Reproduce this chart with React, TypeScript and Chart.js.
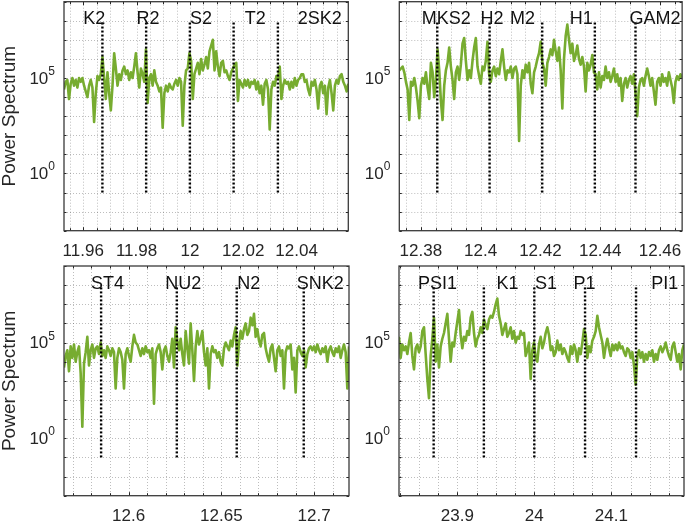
import React, { useEffect, useRef } from "react";
import { Chart, registerables } from "chart.js";
Chart.register(...registerables);

const FONT = "'Liberation Sans', Arial, Helvetica, sans-serif";
const AXIS_COLOR = "#262626";
const GREEN = "#77AC30";

// Power axis limits (log scale) and labelled decades
const yLimits = [1e-3, 1e9];
const yLabelDecades = [0, 5];
const markerSpan = [1e-1, 1e8];
const labelLevel = 1.2e8;

// ---------- Panel 1 : period (hours) ----------
const p1XRange = [11.9528, 12.0594];
const p1LogPower = [
  4.4, 4.8, 4.9, 3.9, 4.7, 5.0, 4.6, 4.9, 4.5, 5.0,
  4.8, 5.0, 4.6, 4.3, 4.0, 4.6, 4.9, 4.5, 2.7, 4.2,
  5.1, 4.9, 5.2, 6.1, 5.0, 3.9, 5.3, 4.2, 3.3, 4.6,
  6.3, 5.5, 4.6, 5.2, 4.9, 5.4, 5.6, 5.2, 5.4, 4.9,
  5.3, 5.0, 5.6, 6.3, 5.3, 4.5, 5.5, 5.2, 4.8, 6.5,
  3.7, 5.0, 5.2, 4.6, 5.4, 4.8, 4.6, 4.3, 4.5, 2.4,
  4.2, 4.6, 4.3, 4.7, 4.5, 4.4, 4.7, 4.9, 4.6, 5.0,
  4.8, 2.5, 4.6, 5.4, 5.5, 6.3, 5.9, 3.9, 5.2, 5.5,
  5.8, 5.2, 6.0, 5.4, 5.7, 6.1, 5.5, 6.4, 6.7, 7.0,
  5.4, 6.4, 5.6, 5.1, 5.8, 5.9, 5.3, 5.4, 5.1, 4.9,
  5.3, 5.5, 5.7, 5.8, 3.8, 4.9, 4.7, 4.5, 4.9, 4.6,
  4.9, 4.5, 4.8, 4.7, 4.9, 4.4, 4.8, 4.2, 4.6, 3.6,
  4.7, 4.9, 4.4, 2.3, 4.4, 4.8, 4.6, 5.1, 5.0, 5.6,
  3.9, 4.6, 4.9, 4.7, 4.8, 4.4, 4.8, 4.5, 5.0, 4.6,
  4.9, 5.0, 5.2, 5.2, 4.8, 4.9, 4.4, 4.1, 4.8, 4.6,
  4.9, 4.4, 3.4, 4.6, 4.8, 4.2, 4.6, 3.1, 4.5, 4.9,
  4.2, 3.3, 4.6, 4.9, 4.7, 5.1, 5.2, 4.8, 4.6, 4.3,
  4.7,
];
const p1Names = ["K2", "R2", "S2", "T2", "2SK2"];
const p1Periods = [11.9672, 11.9836, 12.0, 12.0164, 12.033];
const p1LabelAt = [11.96, 11.98, 12.0, 12.0206, 12.0404];
const p1GridStep = 0.005;
const p1MajorStep = 0.02;

// ---------- Panel 2 ----------
const p2XRange = [12.3728, 12.4674];
const p2LogPower = [
  5.4, 5.5, 5.6, 5.3, 4.8, 4.4, 2.8, 4.8, 4.6, 5.0,
  4.5, 3.8, 2.9, 4.6, 5.0, 4.7, 5.3, 4.5, 3.9, 5.8,
  5.3, 4.0, 4.9, 6.5, 5.4, 3.8, 2.8, 4.6, 5.4, 5.8,
  6.6, 5.6, 4.9, 3.9, 5.3, 5.6, 4.9, 5.7, 6.8, 7.1,
  5.9, 4.9, 5.4, 5.0, 5.9, 6.6, 7.1, 5.6, 5.1, 4.7,
  5.6, 5.4, 5.9, 6.9, 5.2, 4.8, 5.4, 5.6, 5.1, 5.5,
  5.2, 5.9, 6.5, 5.6, 4.9, 5.4, 5.3, 5.6, 5.0, 5.5,
  5.6, 5.2, 1.7, 4.6, 5.4, 5.0, 5.7, 5.3, 5.8, 4.7,
  4.2, 5.3, 5.6, 6.0, 6.3, 6.9, 5.8, 5.5, 4.6, 5.8,
  6.1, 6.5, 6.2, 7.0, 6.4, 5.9, 6.6, 5.4, 3.4, 6.0,
  7.2, 7.8, 7.0, 6.3, 6.8, 5.9, 6.2, 6.7, 6.0, 5.7,
  6.1, 5.6, 4.3, 5.8, 5.4, 5.7, 6.2, 5.3, 5.2, 4.4,
  5.3, 4.5, 5.1, 4.9, 5.6, 5.0, 5.3, 4.8, 5.1, 5.5,
  4.8, 5.2, 4.6, 5.0, 3.8, 4.7, 5.0, 4.5, 4.9, 5.1,
  4.7, 5.2, 4.2, 3.0, 4.5, 4.9, 5.0, 4.6, 5.1, 5.5,
  5.1, 4.6, 5.0, 4.3, 3.6, 4.8, 5.0, 4.6, 5.2, 4.8,
  5.0, 4.6, 5.3, 4.9, 4.5, 3.7, 4.8, 5.1, 4.9, 5.2,
  5.0,
];
const p2Names = ["MKS2", "H2", "M2", "H1", "GAM2"];
const p2Periods = [12.3855, 12.403, 12.4206, 12.4382, 12.4518];
const p2LabelAt = [12.3803, 12.4, 12.4098, 12.4298, 12.4498];
const p2GridStep = 0.005;
const p2MajorStep = 0.02;

// ---------- Panel 3 ----------
const p3XRange = [12.5652, 12.7188];
const p3LogPower = [
  3.7, 4.3, 4.6, 3.5, 4.8, 4.2, 4.9, 4.0, 4.5, 4.8,
  3.4, 0.6, 3.9, 4.5, 5.3, 3.8, 4.6, 4.9, 4.2, 4.7,
  4.8, 4.4, 5.0, 4.3, 4.6, 4.2, 4.8, 4.6, 4.3, 4.7,
  4.5, 2.6, 4.2, 4.7, 4.5, 4.1, 2.6, 4.4, 4.7, 4.3,
  4.0, 4.8, 5.4, 5.0, 4.9, 4.6, 4.3, 4.7, 4.4, 4.8,
  4.5, 4.6, 4.2, 4.7, 1.8, 4.4, 4.7, 4.9, 4.5, 3.6,
  4.6, 4.8, 4.3, 4.0, 4.5, 5.2, 3.7, 5.8, 5.1, 4.6,
  5.2, 4.4, 3.8, 5.6, 4.7, 3.9, 6.0, 4.6, 3.0, 4.8,
  5.6, 4.9, 5.2, 5.6, 4.5, 3.8, 4.7, 2.6, 4.4, 4.8,
  4.5, 4.6, 4.2, 4.5, 4.0, 3.8, 4.7, 5.0, 4.8, 4.6,
  5.1, 4.8, 5.4, 5.8, 3.8, 5.0, 5.6, 5.2, 5.7, 6.0,
  5.4, 5.6, 6.3, 5.9, 6.5, 5.3, 5.7, 5.1, 4.8, 5.4,
  5.5, 4.7, 4.3, 4.0, 4.7, 4.9, 4.2, 3.5, 4.6, 4.8,
  4.3, 4.6, 2.6, 4.5, 4.8, 4.7, 4.9, 3.6, 4.2, 2.4,
  4.6, 4.8, 4.5, 4.3, 4.6, 3.7, 4.4, 4.7, 4.8, 4.6,
  4.8, 4.5, 4.9, 4.6, 4.4, 4.7, 4.5, 4.8, 4.0, 4.6,
  4.8, 4.5, 4.3, 4.7, 4.5, 4.8, 4.2, 4.6, 4.9, 4.5,
  2.6, 4.8,
];
const p3Names = ["ST4", "NU2", "N2", "SNK2"];
const p3Periods = [12.5852, 12.626, 12.6583, 12.6944];
const p3LabelAt = [12.5798, 12.6198, 12.6586, 12.6906];
const p3GridStep = 0.01;
const p3MajorStep = 0.05;

// ---------- Panel 4 ----------
const p4XRange = [23.8243, 24.1944];
const p4LogPower = [
  5.3, 4.2, 4.9, 4.6, 4.8, 4.4, 5.0, 5.5, 4.3, 3.6,
  4.7, 4.9, 4.5, 4.8, 5.6, 5.8, 4.4, 3.1, 2.1, 4.3,
  5.2, 6.3, 4.0, 4.9, 3.7, 4.8, 5.2, 5.5, 6.0, 6.5,
  5.2, 4.0, 5.0, 4.8, 5.5, 6.1, 6.7, 5.4, 4.7, 5.3,
  5.1, 5.6, 5.4, 6.3, 6.6, 5.5, 4.8, 5.2, 5.4, 5.8,
  5.5, 6.2, 5.9, 5.7, 6.2, 6.4, 6.3, 6.6, 7.0, 7.3,
  6.4, 6.0, 5.4, 5.7, 6.0, 5.3, 5.5, 5.8, 5.2, 5.6,
  5.0, 5.3, 5.2, 5.6, 5.4, 5.5, 4.3, 4.6, 5.0, 3.1,
  4.6, 5.0, 4.2, 4.0, 4.9, 5.3, 4.7, 5.0, 5.5, 5.8,
  5.4, 4.6, 4.8, 4.3, 4.5, 5.1, 4.6, 4.9, 4.4, 4.7,
  4.5, 4.2, 4.0, 4.8, 4.4, 4.9, 4.6, 4.0, 4.7, 4.4,
  5.0, 5.7, 5.4, 4.2, 4.8, 4.5, 5.1, 5.3, 5.6, 6.4,
  5.8, 5.4, 5.0, 4.2, 4.8, 5.2, 4.7, 4.3, 4.9, 4.6,
  4.9, 4.6, 5.0, 4.7, 4.8, 4.5, 4.3, 4.7, 4.6, 4.2,
  4.5, 3.8, 2.8, 4.3, 4.6, 4.2, 4.5, 4.0, 4.4, 4.1,
  4.5, 4.3, 4.6, 4.0, 4.4, 4.1, 4.6, 4.8, 4.5, 4.7,
  5.0, 4.6, 4.3, 4.1, 4.8, 5.0, 4.5, 4.0, 4.4, 3.6,
  4.6, 4.9,
];
const p4Names = ["PSI1", "K1", "S1", "P1", "PI1"];
const p4Periods = [23.8693, 23.9345, 24.0, 24.0659, 24.1321];
const p4LabelAt = [23.849, 23.951, 24.001, 24.051, 24.152];
const p4GridStep = 0.025;
const p4MajorStep = 0.1;

type Spec = {
  xRange: number[];
  logPower: number[];
  names: string[];
  periods: number[];
  labelAt: number[];
  gridStep: number;
  majorStep: number;
  title: boolean;
};

type Box = { left: number; top: number; w: number; h: number; l: number; t: number; r: number; b: number };

function makeTicks(min: number, max: number, step: number) {
  const out: { value: number }[] = [];
  const start = Math.ceil(min / step - 1e-9);
  const end = Math.floor(max / step + 1e-9);
  for (let k = start; k <= end; k++) out.push({ value: parseFloat((k * step).toFixed(6)) });
  return out;
}

function isMultiple(v: number, step: number) {
  const q = v / step;
  return Math.abs(q - Math.round(q)) < 1e-6;
}

function Panel({ spec, box }: { spec: Spec; box: Box }) {
  const ref = useRef<HTMLCanvasElement | null>(null);
  useEffect(() => {
    if (!ref.current) return;
    const [xMin, xMax] = spec.xRange;
    const n = spec.logPower.length;
    const series = spec.logPower.map((e, i) => ({
      x: xMin + (i * (xMax - xMin)) / (n - 1),
      y: Math.pow(10, e),
    }));
    const markerSets = spec.periods.map((p) => ({
      data: [
        { x: p, y: markerSpan[0] },
        { x: p, y: markerSpan[1] },
      ],
      borderColor: "#000",
      borderWidth: 2.4,
      borderDash: [2, 2],
      borderCapStyle: "butt" as const,
      pointRadius: 0,
      order: 0,
    }));

    const decor = {
      id: "decor",
      beforeDatasetsDraw(chart: any) {
        const { ctx, chartArea: a } = chart;
        const xs = chart.scales.x;
        const ys = chart.scales.y;
        ctx.save();
        ctx.strokeStyle = "rgba(38,38,38,0.30)";
        ctx.lineWidth = 1;
        ctx.setLineDash([1, 2]);
        ctx.beginPath();
        for (const t of xs.ticks) {
          const px = Math.round(xs.getPixelForValue(t.value)) + 0.5;
          if (px <= a.left + 1 || px >= a.right - 1) continue;
          ctx.moveTo(px, a.top);
          ctx.lineTo(px, a.bottom);
        }
        for (let e = -3; e <= 9; e++) {
          const py = Math.round(ys.getPixelForValue(Math.pow(10, e))) + 0.5;
          if (py <= a.top + 1 || py >= a.bottom - 1) continue;
          ctx.moveTo(a.left, py);
          ctx.lineTo(a.right, py);
        }
        ctx.stroke();
        ctx.restore();
      },
      afterDatasetsDraw(chart: any) {
        const { ctx, chartArea: a } = chart;
        const xs = chart.scales.x;
        const ys = chart.scales.y;
        ctx.save();
        // inward ticks
        ctx.strokeStyle = AXIS_COLOR;
        ctx.lineWidth = 1;
        ctx.beginPath();
        for (const t of xs.ticks) {
          const px = Math.round(xs.getPixelForValue(t.value)) + 0.5;
          const len = isMultiple(t.value, spec.majorStep) ? 3.5 : 2.5;
          ctx.moveTo(px, a.bottom);
          ctx.lineTo(px, a.bottom - len);
          ctx.moveTo(px, a.top);
          ctx.lineTo(px, a.top + len);
        }
        for (let e = -3; e <= 9; e++) {
          const py = Math.round(ys.getPixelForValue(Math.pow(10, e))) + 0.5;
          ctx.moveTo(a.left, py);
          ctx.lineTo(a.left + 2.5, py);
          ctx.moveTo(a.right, py);
          ctx.lineTo(a.right - 2.5, py);
        }
        ctx.stroke();
        // box
        ctx.lineWidth = 1.3;
        ctx.strokeStyle = "#3a3a3a";
        ctx.strokeRect(a.left, a.top, a.right - a.left, a.bottom - a.top);
        // constituent labels
        ctx.fillStyle = "#111";
        ctx.font = `18px ${FONT}`;
        ctx.textAlign = "left";
        ctx.textBaseline = "middle";
        const ly = ys.getPixelForValue(labelLevel);
        spec.names.forEach((nm, i) => {
          ctx.fillText(nm, xs.getPixelForValue(spec.labelAt[i]), ly);
        });
        // y tick labels 10^k
        ctx.fillStyle = AXIS_COLOR;
        for (const e of yLabelDecades) {
          const py = ys.getPixelForValue(Math.pow(10, e));
          const supX = a.left - 9;
          ctx.font = `12px ${FONT}`;
          ctx.textAlign = "right";
          ctx.textBaseline = "alphabetic";
          const sup = String(e);
          const sw = ctx.measureText(sup).width;
          ctx.fillText(sup, supX, py - 3);
          ctx.font = `17px ${FONT}`;
          ctx.textBaseline = "middle";
          ctx.fillText("10", supX - sw, py + 1);
        }
        // axis title
        if (spec.title) {
          ctx.save();
          ctx.translate(10, (a.top + a.bottom) / 2);
          ctx.rotate(-Math.PI / 2);
          ctx.font = `19px ${FONT}`;
          ctx.textAlign = "center";
          ctx.textBaseline = "middle";
          ctx.fillStyle = AXIS_COLOR;
          ctx.fillText("Power Spectrum", 0, 0);
          ctx.restore();
        }
        ctx.restore();
      },
    };

    const chart = new Chart(ref.current, {
      type: "line",
      data: {
        datasets: [
          ...markerSets,
          {
            data: series,
            borderColor: GREEN,
            borderWidth: 2.6,
            borderJoinStyle: "round",
            pointRadius: 0,
            tension: 0,
            order: 1,
          },
        ],
      },
      options: {
        responsive: false,
        animation: false,
        devicePixelRatio: 1,
        events: [],
        layout: { padding: { left: box.l, top: box.t, right: box.w - box.r, bottom: 0 } },
        plugins: { legend: { display: false }, tooltip: { enabled: false } },
        scales: {
          x: {
            type: "linear",
            min: xMin,
            max: xMax,
            grid: { display: false, drawTicks: false },
            border: { display: false },
            afterBuildTicks: (s: any) => {
              s.ticks = makeTicks(xMin, xMax, spec.gridStep);
            },
            afterFit: (s: any) => {
              s.height = box.h - box.b;
            },
            ticks: {
              autoSkip: false,
              maxRotation: 0,
              minRotation: 0,
              padding: 10,
              color: AXIS_COLOR,
              font: { family: FONT, size: 17 },
              callback: (v: any) => {
                const num = Number(v);
                return isMultiple(num, spec.majorStep) ? String(parseFloat(num.toFixed(4))) : "";
              },
            },
          },
          y: {
            type: "logarithmic",
            min: yLimits[0],
            max: yLimits[1],
            display: false,
          },
        },
      },
      plugins: [decor],
    } as any);
    return () => chart.destroy();
  }, []);
  return (
    <canvas
      ref={ref}
      width={box.w}
      height={box.h}
      style={{ position: "absolute", left: box.left, top: box.top, width: box.w, height: box.h }}
    />
  );
}

const specs: Spec[] = [
  { xRange: p1XRange, logPower: p1LogPower, names: p1Names, periods: p1Periods, labelAt: p1LabelAt, gridStep: p1GridStep, majorStep: p1MajorStep, title: true },
  { xRange: p2XRange, logPower: p2LogPower, names: p2Names, periods: p2Periods, labelAt: p2LabelAt, gridStep: p2GridStep, majorStep: p2MajorStep, title: false },
  { xRange: p3XRange, logPower: p3LogPower, names: p3Names, periods: p3Periods, labelAt: p3LabelAt, gridStep: p3GridStep, majorStep: p3MajorStep, title: true },
  { xRange: p4XRange, logPower: p4LogPower, names: p4Names, periods: p4Periods, labelAt: p4LabelAt, gridStep: p4GridStep, majorStep: p4MajorStep, title: false },
];

const boxes: Box[] = [
  { left: 0, top: 0, w: 356, h: 262, l: 64, t: 1.7, r: 348.3, b: 230.7 },
  { left: 356, top: 0, w: 329, h: 262, l: 43.3, t: 1.7, r: 327.3, b: 230.7 },
  { left: 0, top: 262, w: 356, h: 262, l: 64, t: 4, r: 349, b: 233.7 },
  { left: 356, top: 262, w: 329, h: 262, l: 43, t: 4, r: 328, b: 233.7 },
];

export default function App() {
  return (
    <div style={{ position: "absolute", left: 0, top: 0, width: 685, height: 524, background: "#fff" }}>
      {specs.map((s, i) => (
        <Panel key={i} spec={s} box={boxes[i]} />
      ))}
    </div>
  );
}
